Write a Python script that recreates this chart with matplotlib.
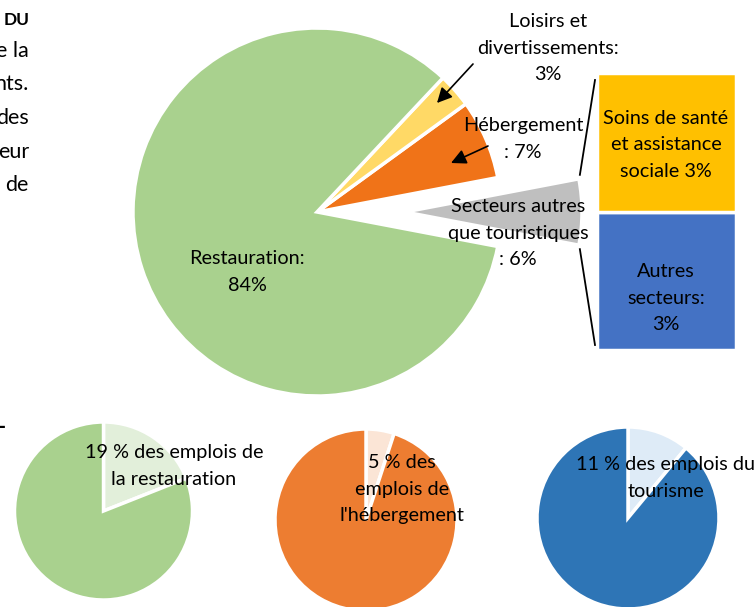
import matplotlib
matplotlib.use("Agg")
import matplotlib.pyplot as plt
import numpy as np

plt.rcParams['font.family'] = ['Lato', 'DejaVu Sans']

# ---------------- data ----------------
main_sectors = ["Secteurs autres\nque touristiques", "Hébergement", "Loisirs et\ndivertissements:", "Restauration:"]
main_shares = [6, 7, 3, 84]
main_colors = ["#BFBFBF", "#F07318", "#FFD966", "#A9D18E"]

other_sectors = ["Autres\nsecteurs:", "Soins de santé\net assistance\nsociale"]
other_shares = [3, 3]
other_colors = ["#4472C4", "#FFC000"]

small_labels = ["19 % des emplois de\nla restauration",
                "5 % des\nemplois de\nl'hébergement",
                "11 % des emplois du\ntourisme"]
small_shares = [19, 5, 11]
small_colors = [("#E2EFDA", "#A9D18E"), ("#FBE5D6", "#ED7D31"), ("#DEEBF7", "#2E75B6")]

side_text = ["e la", "nts.", "des", "eur", "de"]

# ---------------- figure ----------------
W, H = 756, 607
fig = plt.figure(figsize=(W / 100, H / 100), dpi=100)

# bar of pie (drawn first so that texts lie above it)
bx0, bx1, by0, by1 = 597, 736, 73, 350
bax = fig.add_axes([bx0 / W, (H - by1) / H, (bx1 - bx0) / W, (by1 - by0) / H], zorder=1)
bottom = 0
for val, col in zip(other_shares, other_colors):
    bax.bar(0, val, bottom=bottom, width=1, color=col, edgecolor="white", linewidth=2.5)
    bottom += val
bax.set_xlim(-0.5, 0.5)
bax.set_ylim(0, sum(other_shares))
bax.axis("off")

ax = fig.add_axes([0, 0, 1, 1], zorder=2)
ax.patch.set_alpha(0)

def Y(y):
    return H - y

FS = 14.3
LS = 1.65

# main pie
start = -main_shares[0] / sum(main_shares) * 360 / 2
wedges, _ = ax.pie(main_shares, colors=main_colors, startangle=start, counterclock=True,
                   explode=[88, 0, 0, 0], center=(317, Y(212)), radius=184,
                   wedgeprops=dict(edgecolor="white", linewidth=2.5))
grey = wedges[0]
grey.set_radius(177)

# labels main pie
ax.text(247, Y(272), f"{main_sectors[3]}\n{main_shares[3]}%", ha="center", va="center", fontsize=FS, linespacing=LS)
ax.text(548, Y(48), f"{main_sectors[2]}\n{main_shares[2]}%", ha="center", va="center", fontsize=FS, linespacing=LS)
ax.text(523, Y(139), f"{main_sectors[1]}\n: {main_shares[1]}%", ha="center", va="center", fontsize=FS, linespacing=LS)
ax.text(518, Y(233), f"{main_sectors[0]}\n: {main_shares[0]}%", ha="center", va="center", fontsize=FS, linespacing=LS)

arrow = dict(arrowstyle="-|>,head_length=0.9,head_width=0.45", color="black", lw=1.2, shrinkA=0, shrinkB=0)
ax.annotate("", xy=(437, Y(103)), xytext=(473, Y(64)), arrowprops=arrow)
ax.annotate("", xy=(451, Y(163)), xytext=(488, Y(146)), arrowprops=arrow)

# connector lines from grey wedge to the bar
gc = grey.center
r = grey.r
t1, t2 = np.deg2rad(grey.theta1), np.deg2rad(grey.theta2)
top = (gc[0] + r * np.cos(t2), gc[1] + r * np.sin(t2))
bot = (gc[0] + r * np.cos(t1), gc[1] + r * np.sin(t1))
ax.plot([top[0] + 1, 595], [top[1] + 4, Y(80)], color="black", lw=1.3)
ax.plot([bot[0] + 1, 595], [bot[1] - 4, Y(345)], color="black", lw=1.3)

# bar labels
ax.text(666, Y(145), f"{other_sectors[1]} {other_shares[1]}%", ha="center", va="center", fontsize=FS, linespacing=LS)
ax.text(666, Y(298), f"{other_sectors[0]}\n{other_shares[0]}%", ha="center", va="center", fontsize=FS, linespacing=LS)

# bottom small pies
centers = [(103.5, Y(511)), (366, Y(520)), (628, Y(518))]
radii = [89, 91, 91]
for share, cols, c, rr in zip(small_shares, small_colors, centers, radii):
    ax.pie([share, 100 - share], colors=list(cols), startangle=90, counterclock=False,
           center=c, radius=rr, wedgeprops=dict(edgecolor="white", linewidth=2.5))

ax.text(174, Y(466), small_labels[0], ha="center", va="center", fontsize=FS, linespacing=LS)
ax.text(402, Y(489), small_labels[1], ha="center", va="center", fontsize=FS, linespacing=LS)
ax.text(666, Y(478), small_labels[2], ha="center", va="center", fontsize=FS, linespacing=LS)

# fragments of surrounding document text
ax.text(30, Y(20), "DU", ha="right", va="center", fontsize=12.5, fontweight="bold")
for i, t in enumerate(side_text):
    ax.text(29, Y(51 + 33.5 * i), t, ha="right", va="center", fontsize=15.5)
ax.text(6, Y(427), "-", ha="right", va="center", fontsize=15.5, fontweight="bold")

ax.set_xlim(0, W)
ax.set_ylim(0, H)
ax.set_aspect("auto")
ax.axis("off")

fig.savefig("out.png", dpi=100)
